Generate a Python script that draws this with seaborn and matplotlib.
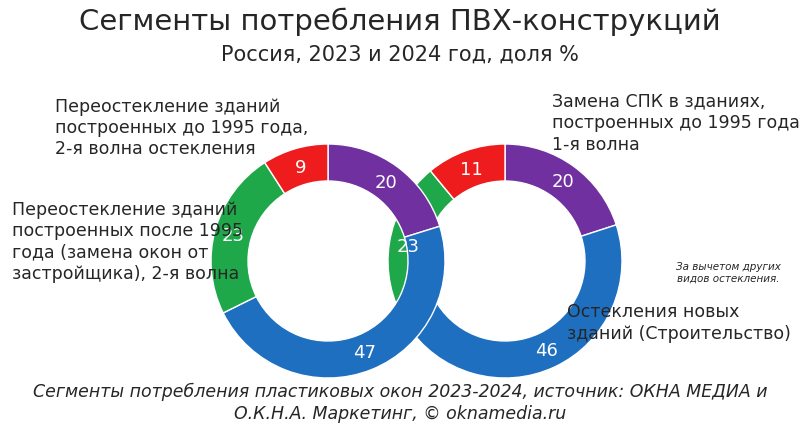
import matplotlib.pyplot as plt
import seaborn as sns

sns.set_style("white")

segments = ["Замена СПК", "Новые здания", "После 1995", "До 1995, 2-я волна"]
values_2023 = [20, 47, 23, 9]
values_2024 = [20, 46, 23, 11]
colors = ["#7030a0", "#1f6fc0", "#1fa84a", "#ee1c1c"]

fig = plt.figure(figsize=(8, 4.27), dpi=100)
ax = fig.add_axes([0, 0, 1, 1])
H = 427


def donut(vals, cx, cy):
    total = sum(vals)
    ax.pie(vals, colors=colors, center=(cx, H - cy), radius=117, startangle=90,
           counterclock=False, wedgeprops=dict(width=37, edgecolor="white", linewidth=1),
           autopct=lambda p: f"{round(p * total / 100)}", pctdistance=0.84,
           textprops=dict(color="white", fontsize=13))


donut(values_2024, 505, 262)
donut(values_2023, 328, 262)

ax.set_xlim(0, 800)
ax.set_ylim(0, H)
ax.set_aspect("equal")
ax.axis("off")

ax.text(400, H - 22, "Сегменты потребления ПВХ-конструкций", ha="center", va="center", fontsize=21)
ax.text(400, H - 55, "Россия, 2023 и 2024 год, доля %", ha="center", va="center", fontsize=15)

ax.text(55, H - 128, "Переостекление зданий\nпостроенных до 1995 года,\n2-я волна остекления",
        ha="left", va="center", fontsize=12.5, linespacing=1.25)
ax.text(12, H - 242, "Переостекление зданий\nпостроенных после 1995\nгода (замена окон от\nзастройщика), 2-я волна",
        ha="left", va="center", fontsize=12.5, linespacing=1.25)
ax.text(552, H - 123, "Замена СПК в зданиях,\nпостроенных до 1995 года,\n1-я волна",
        ha="left", va="center", fontsize=12.5, linespacing=1.25)
ax.text(567, H - 323, "Остекления новых\nзданий (Строительство)",
        ha="left", va="center", fontsize=12.5, linespacing=1.25)
ax.text(728, H - 273, "За вычетом других\nвидов остекления.", ha="center", va="center",
        fontsize=7.5, style="italic")
ax.text(400, H - 403, "Сегменты потребления пластиковых окон 2023-2024, источник: ОКНА МЕДИА и\nО.К.Н.А. Маркетинг, © oknamedia.ru",
        ha="center", va="center", fontsize=12.5, style="italic", linespacing=1.3)

fig.savefig("out.png", dpi=100, facecolor="white")
